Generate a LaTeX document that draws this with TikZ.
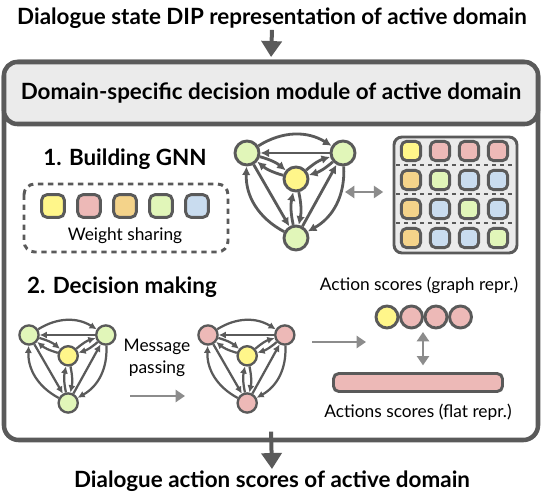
\documentclass[tikz,border=0pt]{standalone}
\usepackage{fontspec}
\setmainfont{Lato}
\usepackage{tikz}
\usetikzlibrary{arrows.meta,positioning,calc}
\usepackage{xcolor}
\definecolor{dkgray}{HTML}{5A5A5A}
\definecolor{ltgray}{HTML}{8C8C8C}
\definecolor{hdgray}{HTML}{EBEBEB}
\definecolor{cyellow}{HTML}{FFF68A}
\definecolor{cpink}{HTML}{EDB9B7}
\definecolor{corange}{HTML}{F4D38A}
\definecolor{cgreen}{HTML}{E1F6B9}
\definecolor{cblue}{HTML}{C9DCEF}
\tikzset{
  title/.style={font=\fontsize{16.8}{19}\selectfont\bfseries, text=black, inner sep=1pt},
  caption/.style={font=\fontsize{13}{16.5}\selectfont, text=black, align=center, inner sep=1pt},
  bigarrow/.style={draw=dkgray, line width=3pt, -{Triangle[length=12pt,width=15pt]}},
  lightarrow/.style={draw=ltgray, line width=2.2pt, -{Triangle[length=7pt,width=9pt]}},
  modbox/.style={draw=dkgray, line width=3.4pt, rounded corners=11pt, fill=white},
  headbox/.style={draw=dkgray, line width=3.4pt, rounded corners=10pt, fill=hdgray},
  wbox/.style={draw=dkgray, line width=2.2pt, rounded corners=8pt, dash pattern=on 4pt off 3.5pt},
  matbox/.style={draw=dkgray, line width=2.2pt, rounded corners=6pt, fill=hdgray},
  gnode/.style={circle, draw=dkgray, inner sep=0pt},
  gedge/.style={draw=dkgray, -{Latex[length=1pt 2.6, width=1pt 2.6]}},
  wcell/.style={draw=dkgray, line width=2.2pt, rounded corners=4pt, minimum size=17pt, inner sep=0pt},
  mcell/.style={draw=dkgray, line width=2.2pt, rounded corners=4pt, minimum size=14.5pt, inner sep=0pt},
  score/.style={circle, draw=dkgray, line width=2.2pt, minimum size=16.5pt, inner sep=0pt},
  flatbar/.style={draw=dkgray, line width=2.2pt, rounded corners=4pt, fill=cpink,
    minimum width=126.75pt, minimum height=13.5pt, inner sep=0pt},
}
% #1 prefix, #2/#3 position of top-left node, #4 scale, #5 colour of outer nodes
\newcommand{\drawgnn}[5]{%
  \begin{scope}[shift={(#2,#3)}, scale=#4]
    \node[gnode, fill=#5, minimum size=#4*18pt, line width=#4*2.2pt] (#1tl) at (0,0) {};
    \node[gnode, fill=#5, minimum size=#4*18pt, line width=#4*2.2pt] (#1tr) at (96,0) {};
    \node[gnode, fill=cyellow, minimum size=#4*18pt, line width=#4*2.2pt] (#1c) at (49,26) {};
    \node[gnode, fill=#5, minimum size=#4*18pt, line width=#4*2.2pt] (#1b) at (49,85) {};
    \begin{scope}[line width=#4*2.1pt]
      \draw[gedge] (#1tl) to[bend left=32] (#1tr);
      \draw[gedge] (#1tr) to[bend left=32] (#1b);
      \draw[gedge] (#1b) to[bend left=32] (#1tl);
      \draw[gedge] (#1tr) -- (#1tl);
      \draw[gedge] (#1b) -- (#1tr);
      \draw[gedge] (#1tl) -- (#1b);
      \foreach \o in {tl,tr,b}{
        \draw[gedge] (#1c) to[bend left=12] (#1\o);
        \draw[gedge] (#1\o) to[bend left=12] (#1c);
      }
    \end{scope}
  \end{scope}}

\begin{document}
\begin{tikzpicture}[x=0.75pt, y=-0.75pt]
  \useasboundingbox (0,0) rectangle (544,502);

  % module frame and header
  \node[modbox, minimum width=400.5pt, minimum height=283.5pt] (module) at (271,251) {};
  \node[headbox, minimum width=400.5pt, minimum height=46.5pt, title] (header) at (271,93)
    {Domain-specific decision module of active domain};

  % input / output
  \node[title] (ttop) at (272,18) {Dialogue state DIP representation of active domain};
  \node[title] (tbot) at (272,481) {Dialogue action scores of active domain};
  \draw[bigarrow, shorten >=2pt] (ttop.south) -- (module.north);
  \draw[bigarrow] ([yshift=8pt]module.south) -- (tbot.north);

  % 1. Building GNN
  \node[title] (step1) at (125,159) {1. Building GNN};
  \draw[wbox] (24,184) rectangle (228,252);
  \foreach \c [count=\i] in {cyellow,cpink,corange,cgreen,cblue}
    \node[wcell, fill=\c] (w\i) at (17+36*\i,206) {};
  \node[caption] (wshare) at (125,236) {Weight sharing};

  \drawgnn{ga}{247}{153}{1}{cgreen}

  \node[matbox, minimum width=92.25pt, minimum height=87pt] (mat) at (455.5,195) {};
  \foreach \y in {165.5,194.5,223.5}
    \draw[dkgray, line width=1.5pt, dash pattern=on 3pt off 3pt] (396,\y) -- (515,\y);
  \foreach \cols [count=\r from 0] in {{cyellow,cpink,cpink,cpink},{corange,cgreen,cblue,cblue},
      {corange,cblue,cgreen,cblue},{corange,cblue,cblue,cgreen}}
    \foreach \c [count=\i from 0] in \cols
      \node[mcell, fill=\c] (m\r\i) at (411+29*\i,151+29*\r) {};

  \coordinate (gaout) at (345,192);
  \draw[lightarrow, {Triangle[length=7pt,width=9pt]}-{Triangle[length=7pt,width=9pt]}, shorten >=7pt]
    (gaout) -- (mat.west |- gaout);

  % 2. Decision making
  \node[title] (step2) at (122,287) {2. Decision making};
  \drawgnn{gb}{29}{335}{0.8}{cgreen}
  \drawgnn{gc}{208}{335}{0.8}{cpink}

  \node[caption] (msg) at (157,358) {Message\\passing};
  \coordinate (mpa) at (130,396);
  \coordinate (mpb) at (185,396);
  \draw[lightarrow] (mpa) -- (mpb);

  \coordinate (gcout) at (312,342);
  \coordinate (scin) at (366,342);
  \draw[lightarrow] (gcout) -- (scin);

  \node[caption] (graphlbl) at (419,285) {Action scores (graph repr.)};
  \foreach \c [count=\i from 0] in {cyellow,cpink,cpink,cpink}
    \node[score, fill=\c] (s\i) at (387+24.5*\i,317) {};

  \node[flatbar] (flat) at (418,382.5) {};
  \node[caption] (flatlbl) at (418,412) {Actions scores (flat repr.)};

  \coordinate (scdown) at (423,332);
  \draw[lightarrow, {Triangle[length=7pt,width=9pt]}-{Triangle[length=7pt,width=9pt]}, shorten >=5pt]
    (scdown) -- (scdown |- flat.north);
\end{tikzpicture}
\end{document}
